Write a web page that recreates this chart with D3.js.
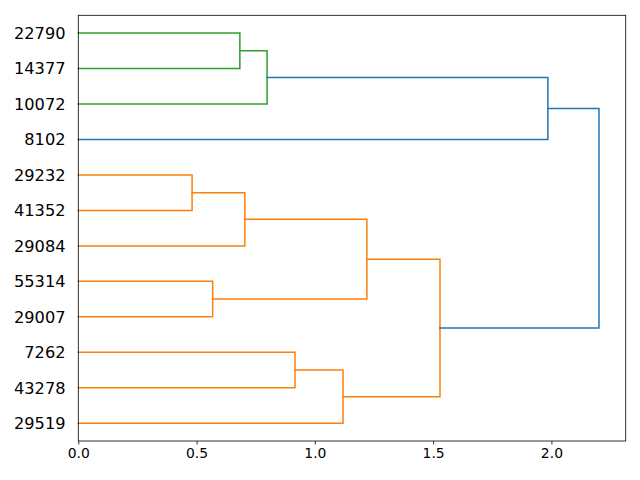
<!DOCTYPE html>
<html><head><meta charset="utf-8">
<script src="https://cdn.jsdelivr.net/npm/d3@7"></script>
<style>body{margin:0;background:#fff}svg{display:block}</style>
</head><body>
<svg id="c" width="640" height="480"></svg>
<script>
const leafLabels = ["22790","14377","10072","8102","29232","41352","29084","55314","29007","7262","43278","29519"];
// merges: node ids 0..11 are leaves, merges get ids 12..
const mergeLeft   = [0, 12, 13, 4, 15, 7, 16, 9, 19, 18, 14];
const mergeRight  = [1, 2, 3, 5, 6, 8, 17, 10, 11, 20, 21];
const mergeHeight = [0.683, 0.798, 1.985, 0.481, 0.704, 0.568, 1.220, 0.916, 1.119, 1.529, 2.201];
const mergeColor  = ["#2ca02c","#2ca02c","#1f77b4","#ff7f0e","#ff7f0e","#ff7f0e","#ff7f0e","#ff7f0e","#ff7f0e","#ff7f0e","#1f77b4"];
const xTicks = [0, 0.5, 1.0, 1.5, 2.0];
const xMax = 2.314;

const L = 78.3, R = 625.7, T = 15.3, B = 441;
const svg = d3.select("#c");
const x = d3.scaleLinear().domain([0, xMax]).range([L, R]);
const y = d3.scaleLinear().domain([0, leafLabels.length * 10]).range([T, B]);

const nodeY = leafLabels.map((_, i) => y(5 + 10 * i));
const nodeH = leafLabels.map(() => 0);
mergeLeft.forEach((a, k) => {
  const b = mergeRight[k];
  nodeY.push((nodeY[a] + nodeY[b]) / 2);
  nodeH.push(mergeHeight[k]);
});

const g = svg.append("g");
mergeLeft.forEach((a, k) => {
  const b = mergeRight[k];
  const h = mergeHeight[k];
  const p = d3.path();
  p.moveTo(x(nodeH[a]), nodeY[a]);
  p.lineTo(x(h), nodeY[a]);
  p.lineTo(x(h), nodeY[b]);
  p.lineTo(x(nodeH[b]), nodeY[b]);
  g.append("path").attr("d", p.toString()).attr("fill", "none")
    .attr("stroke", mergeColor[k]).attr("stroke-width", 1.5)
    .attr("stroke-linejoin", "miter").attr("stroke-linecap", "square");
});

// frame
svg.append("rect").attr("x", L).attr("y", T).attr("width", R - L).attr("height", B - T)
  .attr("fill", "none").attr("stroke", "#000").attr("stroke-width", 0.8);

// x axis
const xa = svg.append("g").attr("transform", `translate(0,${B})`)
  .call(d3.axisBottom(x).tickValues(xTicks).tickFormat(d3.format(".1f")).tickSize(3.5).tickPadding(3.5));
xa.select(".domain").remove();
xa.selectAll("line").attr("stroke", "#000").attr("stroke-width", 0.8);
xa.selectAll("text").attr("font-family", "DejaVu Sans").attr("font-size", "13.9px").attr("fill", "#000");

// y labels
svg.append("g").selectAll("text").data(leafLabels).join("text")
  .attr("x", 65.5).attr("y", (d, i) => y(5 + 10 * i)).attr("dy", "0.36em")
  .attr("text-anchor", "end").attr("font-family", "DejaVu Sans").attr("font-size", "16.2px")
  .attr("fill", "#000").text(d => d);
</script>
</body></html>
